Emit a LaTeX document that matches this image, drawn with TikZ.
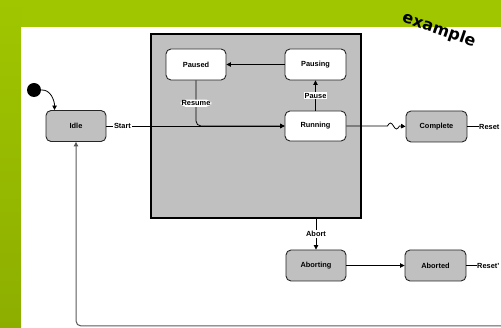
\documentclass[tikz,border=0pt]{standalone}
\usepackage{fontspec}
\setmainfont{Liberation Sans}
\newfontfamily\dejavub{DejaVu Sans}
\usetikzlibrary{arrows.meta,calc}
\definecolor{grn}{HTML}{A0C600}
\definecolor{grnd}{HTML}{8DAE00}
\definecolor{boxgray}{HTML}{C0C0C0}
\begin{document}
\begin{tikzpicture}[x=1pt,y=-1pt,
  every node/.style={font=\fontsize{7.4}{8}\selectfont\bfseries},
  st/.style={draw=black!85,line width=0.9pt,rounded corners=5pt,minimum width=60pt,minimum height=31pt,inner sep=0pt},
  stgray/.style={st,fill=boxgray},
  stwhite/.style={st,fill=white},
  lbl/.style={fill=white,inner sep=1pt},
  conn/.style={line width=0.8pt,-{Triangle[length=4.5pt,width=4.5pt]}},
  plain/.style={line width=0.8pt}]
\useasboundingbox (0,0) rectangle (501,328);
\clip (0,0) rectangle (501,328);
% background
\fill[grn] (0,0) rectangle (501,27.5);
\shade[top color=grn,bottom color=grnd] (0,0) rectangle (21,328);
\node[font=\dejavub\bfseries\fontsize{16}{18}\selectfont,rotate=-19] (ex) at (439,30) {example};
% container
\node[draw=black,line width=1.3pt,fill=boxgray,minimum width=210pt,minimum height=184pt,inner sep=0pt] (container) at (256,126) {};
% states
\node[stwhite] (Paused) at (196,64.5) {Paused};
\node[stwhite,minimum width=61pt] (Pausing) at (315.5,64.5) {Pausing};
\node[stwhite,minimum width=61pt,minimum height=30pt] (Running) at (315.5,126) {Running};
\node[stgray] (Idle) at (76,126) {Idle};
\node[stgray,minimum width=61pt] (Complete) at (436.5,126.5) {Complete};
\node[stgray] (Aborting) at (316,265.5) {Aborting};
\node[stgray,minimum width=61pt] (Aborted) at (435.5,265.5) {Aborted};
\node[fill=black,circle,minimum size=14pt,inner sep=0pt] (init) at (34,90) {};
% labels at right edge
\node[anchor=west,inner sep=0.5pt] (reset1) at (478.5,126.5) {Reset};
\node[anchor=west,inner sep=0.5pt] (reset2) at (476.5,265.5) {Reset'};
\coordinate (ret) at (510,326);
% connectors
\draw[conn] (init.east) to[out=5,in=90] ($(Idle.north west)+(9,0)$);
\draw[conn] (Idle.east) -- node[lbl,pos=0.09] {Start} (Running.west);
\draw[conn,rounded corners=5pt] (Paused.south) |- node[lbl,pos=0.25] {Resume} (Running.west);
\draw[conn] (Running.north) -- node[lbl] {Pause} (Pausing.south);
\draw[conn] (Pausing.west) -- (Paused.east);
\draw[conn] (Running.east) -- ++(41,0) sin ++(3,-3) cos ++(3,3) sin ++(3,3) cos ++(3,-3) -- (Complete.west);
\draw[plain] (Complete.east) -- (reset1.west);
\draw[conn] (container.south -| Aborting.north) -- node[lbl] {Abort} (Aborting.north);
\draw[conn] (Aborting.east) -- (Aborted.west);
\draw[plain] (Aborted.east) -- (reset2.west);
\draw[conn,draw=black!65,line width=1pt,rounded corners=5pt] (ret) -| (Idle.south);
\end{tikzpicture}
\end{document}
